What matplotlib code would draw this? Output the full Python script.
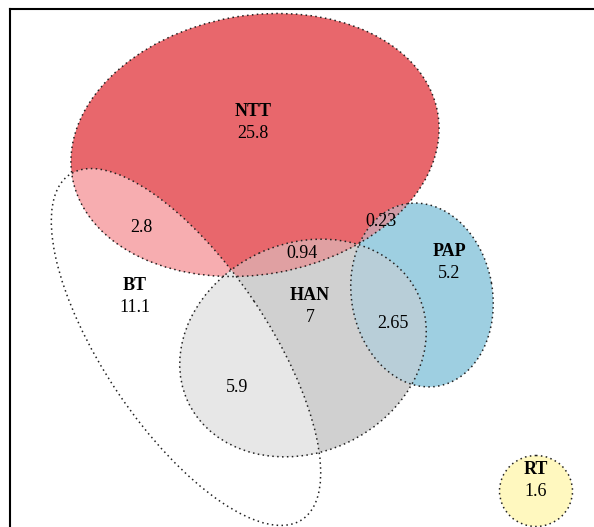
import numpy as np
import matplotlib as mpl
mpl.use('Agg')
import matplotlib.pyplot as plt
from matplotlib.patches import Ellipse

# set sizes (unique part of each set) and pairwise overlaps
sets = ['NTT', 'BT', 'HAN', 'PAP', 'RT']
set_only = [25.8, 11.1, 7, 5.2, 1.6]
overlap_pairs = [('NTT', 'BT'), ('NTT', 'HAN'), ('NTT', 'PAP'), ('HAN', 'PAP'), ('HAN', 'BT')]
overlap_vals = [2.8, 0.94, 0.23, 2.65, 5.9]

# ellipse layout in pixel coords (x, y, width, height, angle), y downwards
shape = {
    'NTT': (255, 145, 371, 259, -10),
    'BT':  (186, 347, 416, 164, 56),
    'HAN': (303, 348, 254, 209, -25),
    'PAP': (422, 295, 185, 141, 80),
    'RT':  (536, 491, 73, 71, 0),
}
fill = {'NTT': '#e8676c', 'BT': 'none', 'HAN': '#d0d0d0', 'PAP': '#9ecfe1', 'RT': '#fff8bf'}
overlap_fill = ['#f7adb0', '#e0a0a2', '#d09ba6', '#b8ced8', '#e7e7e7']

# label anchors (name line / value line) in pixel coords
name_pos = {'NTT': (253, 112), 'BT': (135, 286), 'HAN': (310, 295), 'PAP': (449, 252), 'RT': (536, 469)}
overlap_pos = [(141, 228), (302, 254), (381, 221), (393, 324), (237, 387)]

plt.rcParams['font.family'] = ['Liberation Serif', 'DejaVu Serif']
fig = plt.figure(figsize=(5.94, 5.27), dpi=100)

# frame of the panel, only the left and top edges are in view
fr = fig.add_axes([10/594, -0.1, 1.0, 1.1 - 9/527])
fr.set_xticks([])
fr.set_yticks([])
for s in fr.spines.values():
    s.set_linewidth(1.5)
    s.set_color('black')

ax = fig.add_axes([0, 0, 1, 1])
ax.set_xlim(0, 594)
ax.set_ylim(527, 0)
ax.axis('off')
ax.patch.set_alpha(0)

def ell(name, **kw):
    x, y, w, h, a = shape[name]
    return Ellipse((x, y), w, h, angle=a, **kw)

# base fills
for name in ['HAN', 'NTT', 'PAP', 'RT']:
    ax.add_patch(ell(name, facecolor=fill[name], edgecolor='none', zorder=1))

# overlaps: fill one set clipped to the other
for (a, b), c in zip(overlap_pairs, overlap_fill):
    clip = ell(b, transform=ax.transData)
    p = ell(a, facecolor=c, edgecolor='none', zorder=2)
    ax.add_patch(p)
    p.set_clip_path(clip)

# dotted outlines
for name in sets:
    ax.add_patch(ell(name, facecolor='none', edgecolor='#222222', lw=1.1,
                     linestyle=(0, (1, 2.2)), zorder=3))

for name, v in zip(sets, set_only):
    x, y = name_pos[name]
    ax.text(x, y, name, ha='center', va='center', fontsize=13, fontweight='bold', zorder=4)
    ax.text(x, y + 22, f'{v:g}', ha='center', va='center', fontsize=13, zorder=4)

for (x, y), v in zip(overlap_pos, overlap_vals):
    ax.text(x, y, f'{v:g}', ha='center', va='center', fontsize=13, zorder=4)

fig.savefig('out.png', dpi=100)
